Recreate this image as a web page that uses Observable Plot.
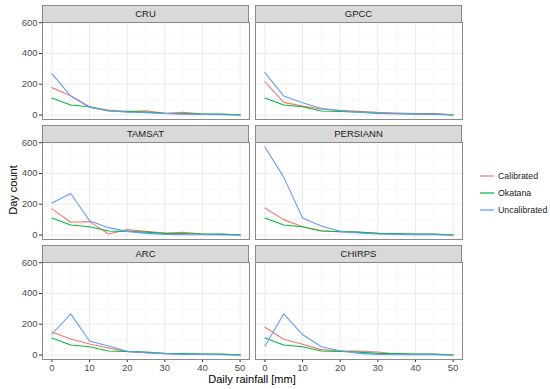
<!DOCTYPE html>
<html><head><meta charset="utf-8">
<script src="https://cdn.jsdelivr.net/npm/d3@7"></script>
<script src="https://cdn.jsdelivr.net/npm/@observablehq/plot@0.6"></script>
<style>
body{margin:0;background:#fff;font-family:"Liberation Sans",Arial,sans-serif;}
#root{position:relative;width:550px;height:389px;overflow:hidden;background:#fff;}
.strip{position:absolute;box-sizing:border-box;background:#d9d9d9;border:1px solid #8a8a8a;font-size:9.5px;color:#1a1a1a;text-align:center;line-height:15px;}
.pl{position:absolute;}
.t{position:absolute;color:#000;font-size:11px;white-space:nowrap;}
.leg{position:absolute;font-size:8.8px;color:#1a1a1a;white-space:nowrap;}
.leg div{height:17.3px;display:flex;align-items:center;}
.leg svg{margin-right:4px;}
</style></head>
<body><div id="root"></div>
<script>
const rainfall = [0,5,10,15,20,25,30,35,40,45,50];
const products = ["CRU","GPCC","TAMSAT","PERSIANN","ARC","CHIRPS"];
const seriesNames = ["Calibrated","Okatana","Uncalibrated"];
const seriesColors = ["#F8766D","#00BA38","#619CFF"];
const yTicks = [0,200,400,600];
const xTicks = [0,10,20,30,40,50];

const okatana = [110,65,54,26,24,19,11,9,7,6,1];

const cruCal   = [178,125,54,32,22,28,11,17,6,4,2];
const cruUncal = [269,123,50,28,19,15,10,6,3,2,0];
const gpccCal   = [217,82,58,39,30,24,17,13,9,9,2];
const gpccUncal = [275,123,80,43,28,19,13,9,6,4,2];
const tamsatCal   = [170,83,87,7,35,24,13,17,7,4,0];
const tamsatUncal = [208,270,93,48,24,11,4,2,2,0,0];
const persiannCal   = [176,100,54,28,20,17,11,7,4,4,0];
const persiannUncal = [572,376,111,59,24,13,7,4,2,2,0];
const arcCal   = [150,104,72,46,22,15,9,7,4,4,0];
const arcUncal = [135,267,91,59,24,15,9,4,4,2,0];
const chirpsCal   = [180,102,70,35,26,26,20,7,4,4,0];
const chirpsUncal = [59,267,133,54,28,11,4,2,2,2,0];

const calibrated = [cruCal,gpccCal,tamsatCal,persiannCal,arcCal,chirpsCal];
const uncalibrated = [cruUncal,gpccUncal,tamsatUncal,persiannUncal,arcUncal,chirpsUncal];

const root = document.getElementById("root");
const colLeft = [42, 255];
const rowTop = [22, 142, 262];
const pw = 207, ph = 97, stripH = 17;

products.forEach((name, i) => {
  const col = i % 2, row = Math.floor(i / 2);
  const data = [];
  rainfall.forEach((x, j) => data.push({x, y: calibrated[i][j], s: "Calibrated"}));
  rainfall.forEach((x, j) => data.push({x, y: okatana[j], s: "Okatana"}));
  rainfall.forEach((x, j) => data.push({x, y: uncalibrated[i][j], s: "Uncalibrated"}));
  const left = col === 0, bottom = row === 2;
  const ml = left ? 42 : 1, mr = 1, mt = 1, mb = bottom ? 24 : 1;
  const marks = [
    Plot.ruleX([5,15,25,35,45], {stroke:"#f2f2f2", strokeWidth:0.6}),
    Plot.ruleY([100,300,500], {stroke:"#f2f2f2", strokeWidth:0.6}),
    Plot.ruleX(xTicks, {stroke:"#ebebeb", strokeWidth:1}),
    Plot.ruleY(yTicks, {stroke:"#ebebeb", strokeWidth:1}),
    Plot.line(data, {x:"x", y:"y", z:"s", stroke:"s", strokeWidth:1.1})
  ];
  if (left) marks.push(Plot.axisY(yTicks, {tickSize:3, tickPadding:2, fontSize:9.5, color:"#4d4d4d", stroke:"#333", label:null}));
  else marks.push(Plot.axisY({ticks:[], label:null, tickSize:0}));
  if (bottom) marks.push(Plot.axisX(xTicks, {tickSize:3, tickPadding:2, fontSize:9.5, color:"#4d4d4d", stroke:"#333", label:null}));
  else marks.push(Plot.axisX({ticks:[], label:null, tickSize:0}));
  marks.push(Plot.frame({stroke:"#8a8a8a"}));
  const svg = Plot.plot({
    width: pw + ml + mr, height: ph + mt + mb,
    marginLeft: ml, marginRight: mr, marginTop: mt, marginBottom: mb,
    x: {domain:[-2.5,52.5]},
    y: {domain:[-29,601]},
    color: {domain: seriesNames, range: seriesColors},
    style: {fontFamily:"Liberation Sans, Arial, sans-serif", background:"transparent", overflow:"visible"},
    marks
  });
  svg.classList.add("pl");
  svg.style.left = (colLeft[col] - ml) + "px";
  svg.style.top = (rowTop[row] - mt) + "px";
  root.appendChild(svg);
  const st = document.createElement("div");
  st.className = "strip";
  st.style.left = colLeft[col] + "px";
  st.style.top = (rowTop[row] - stripH) + "px";
  st.style.width = pw + "px";
  st.style.height = (stripH + 1) + "px";
  st.textContent = name;
  root.appendChild(st);
});

const yt = document.createElement("div");
yt.className = "t";
yt.textContent = "Day count";
yt.style.left = "13px"; yt.style.top = "190px";
yt.style.transform = "translate(-50%,-50%) rotate(-90deg)";
root.appendChild(yt);

const xt = document.createElement("div");
xt.className = "t";
xt.textContent = "Daily rainfall [mm]";
xt.style.left = "252px"; xt.style.top = "379px";
xt.style.transform = "translate(-50%,-50%)";
root.appendChild(xt);

const leg = document.createElement("div");
leg.className = "leg";
leg.style.left = "480px"; leg.style.top = "167px";
seriesNames.forEach((n, k) => {
  const d = document.createElement("div");
  d.innerHTML = `<svg width="14" height="4"><line x1="0" x2="14" y1="2" y2="2" stroke="${seriesColors[k]}" stroke-width="1.2"/></svg>`;
  d.appendChild(document.createTextNode(n));
  leg.appendChild(d);
});
root.appendChild(leg);
</script></body></html>
